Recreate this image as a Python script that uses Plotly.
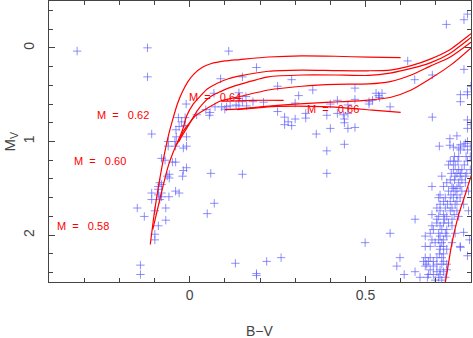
import plotly.graph_objects as go

# ---- observed stars (B-V, M_V) ----
bv_stars = [
    -0.32, -0.12, -0.12, -0.108, 0.111, 0.088,
    -0.01, -0.013, -0.032, -0.023, -0.03, -0.039, -0.009, -0.038, -0.013, 0.069, 0.02, 0.046, 0.058, 0.056,
    0.072, 0.091, 0.105, 0.115, 0.132, 0.10,
    -0.061, -0.042, -0.061, -0.040, -0.018, -0.009, -0.080, -0.070, -0.049, -0.040, -0.018, -0.009,
    -0.058, -0.058, -0.064, -0.020, 0.060, -0.085, -0.080, -0.089, -0.089, -0.080, -0.089, -0.080,
    -0.108, -0.108, -0.040, -0.030, -0.059, -0.085, -0.149, -0.129, -0.099, -0.068, -0.068, -0.089,
    0.070, 0.050, -0.099, -0.099, -0.140, -0.140, 0.130,
    0.19, 0.15, 0.29, 0.25, 0.35, 0.47, 0.14, 0.16, 0.31, 0.138, 0.15, 0.18, 0.21, 0.14, 0.162, 0.30,
    0.42, 0.47, 0.45, 0.40, 0.53, 0.537, 0.547, 0.54, 0.51, 0.52, 0.51, 0.57, 0.25, 0.27, 0.30, 0.28,
    0.27, 0.29, 0.33, 0.33, 0.39, 0.42, 0.437, 0.44, 0.44, 0.45, 0.40, 0.45, 0.47, 0.36, 0.44, 0.39,
    0.39, 0.15, 0.219, 0.26, 0.19, 0.19, 0.499, 0.57, 0.61,
    0.62, 0.64, 0.69, 0.73, 0.78, 0.79, 0.78, 0.77, 0.79, 0.79, 0.80, 0.77, 0.69, 0.79, 0.80, 0.79,
    0.74, 0.76, 0.71, 0.74, 0.75, 0.77, 0.78, 0.77, 0.765, 0.784, 0.79, 0.798, 0.79,
    0.753, 0.765, 0.786, 0.798, 0.741, 0.750, 0.763, 0.790, 0.736, 0.755, 0.781,
    0.750, 0.765, 0.774, 0.798, 0.744, 0.760, 0.771, 0.788, 0.717, 0.755, 0.769, 0.784,
    0.741, 0.753, 0.774, 0.731, 0.765, 0.784, 0.689, 0.722, 0.746, 0.769, 0.750, 0.760,
    0.736, 0.755, 0.774, 0.793, 0.712, 0.743, 0.760, 0.708, 0.727, 0.750, 0.769,
    0.722, 0.741, 0.760, 0.712, 0.733, 0.755, 0.779, 0.703, 0.727, 0.746,
    0.712, 0.741, 0.760, 0.793, 0.689, 0.722, 0.752, 0.708, 0.731, 0.765, 0.641, 0.703, 0.725, 0.746,
    0.703, 0.722, 0.736, 0.689, 0.712, 0.746, 0.693, 0.717, 0.731, 0.684, 0.708, 0.727, 0.755,
    0.670, 0.712, 0.731, 0.689, 0.708, 0.722, 0.698, 0.717, 0.746, 0.670, 0.684, 0.712, 0.722, 0.769,
    0.712, 0.731, 0.710, 0.722, 0.598, 0.670, 0.684, 0.703, 0.717, 0.665, 0.679, 0.693, 0.722,
    0.674, 0.703, 0.717, 0.731, 0.589, 0.670, 0.693, 0.684, 0.712, 0.731, 0.641, 0.703, 0.722,
    0.679, 0.693, 0.712, 0.655, 0.676, 0.708, 0.727, 0.698, 0.717,
    0.770, 0.790, 0.779, 0.796,
]
mv_stars = [
    0.035, 0.0, 0.31, 0.92, 0.035, 0.33,
    0.60, 0.745, 0.745, 0.79, 0.84, 0.875, 0.95, 0.95, 0.83, 0.485, 0.715, 0.66, 0.69, 0.72,
    0.63, 0.63, 0.63, 0.62, 0.61, 0.655,
    1.0, 1.0, 1.05, 1.05, 1.07, 1.05, 1.18, 1.20, 1.22, 1.22, 1.31, 1.28,
    1.35, 1.39, 1.37, 1.37, 1.34, 1.44, 1.46, 1.48, 1.51, 1.55, 1.57, 1.59,
    1.55, 1.62, 1.53, 1.55, 1.59, 1.62, 1.71, 1.80, 1.74, 1.71, 1.84, 1.90,
    1.66, 1.77, 1.99, 2.05, 2.32, 2.42, 2.30,
    0.21, 0.31, 0.34, 0.41, 0.45, 0.43, 0.48, 0.52, 0.51, 0.54, 0.575, 0.575, 0.58, 0.62, 0.62, 0.59,
    0.56, 0.55, 0.61, 0.60, 0.485, 0.51, 0.485, 0.53, 0.575, 0.56, 0.60, 0.63, 0.68, 0.74, 0.76, 0.79,
    0.82, 0.83, 0.70, 0.75, 0.72, 0.70, 0.715, 0.76, 0.80, 0.70, 0.86, 0.86, 0.85, 0.92, 1.03, 1.10,
    1.34, 1.35, 2.28, 2.24, 2.41, 2.43, 2.08, 1.98, 2.42,
    0.14, 0.34, 0.29, -0.25, -0.30, -0.36, 0.23, 0.50, 0.50, 0.47, 0.41, 0.575, 0.74, 0.77, 0.82, 0.86,
    0.97, 0.94, 1.05, 1.04, 1.06, 1.035, 1.05, 1.09, 1.07, 1.02, 1.09, 1.05, 1.0,
    1.16, 1.16, 1.16, 1.16, 1.21, 1.21, 1.21, 1.21, 1.25, 1.25, 1.25,
    1.30, 1.30, 1.30, 1.30, 1.34, 1.34, 1.34, 1.34, 1.37, 1.37, 1.37, 1.37,
    1.41, 1.41, 1.41, 1.44, 1.44, 1.44, 1.48, 1.48, 1.48, 1.48, 1.50, 1.50,
    1.53, 1.53, 1.53, 1.53, 1.57, 1.57, 1.57, 1.60, 1.60, 1.60, 1.60,
    1.64, 1.64, 1.64, 1.67, 1.67, 1.67, 1.67, 1.71, 1.71, 1.71,
    1.74, 1.74, 1.74, 1.74, 1.78, 1.78, 1.78, 1.80, 1.80, 1.80, 1.83, 1.83, 1.83, 1.83,
    1.87, 1.87, 1.87, 1.90, 1.90, 1.90, 1.94, 1.94, 1.94, 1.98, 1.98, 1.98, 1.98,
    2.01, 2.01, 2.01, 2.05, 2.05, 2.05, 2.08, 2.08, 2.08, 2.12, 2.12, 2.12, 2.12, 2.12,
    2.15, 2.15, 2.20, 2.20, 2.24, 2.24, 2.24, 2.24, 2.24, 2.28, 2.28, 2.28, 2.28,
    2.31, 2.31, 2.31, 2.31, 2.33, 2.33, 2.33, 2.37, 2.37, 2.37, 2.39, 2.39, 2.39,
    2.42, 2.42, 2.42, 2.45, 2.45, 2.45, 2.45, 2.48, 2.48,
    2.13, 2.22, 1.97, 2.05,
]

# ---- HB evolutionary tracks ----
t1_bv = [-0.112, -0.10, -0.085, -0.070, -0.058, -0.047, -0.035, -0.022, -0.005, 0.012, 0.035, 0.06, 0.10, 0.143, 0.224, 0.319, 0.414, 0.509, 0.60]
t1_mv = [2.10, 1.75, 1.40, 1.10, 0.90, 0.75, 0.60, 0.48, 0.36, 0.28, 0.21, 0.17, 0.14, 0.125, 0.098, 0.085, 0.09, 0.10, 0.105]
t2_bv = [-0.105, -0.085, -0.06, -0.04, -0.028, -0.018, -0.009, 0.010, 0.029, 0.05, 0.077, 0.11, 0.143, 0.224, 0.319, 0.414, 0.509, 0.57, 0.63, 0.684, 0.74, 0.80, 0.82]
t2_mv = [1.94, 1.62, 1.25, 1.05, 0.95, 0.85, 0.73, 0.60, 0.52, 0.44, 0.38, 0.33, 0.30, 0.25, 0.238, 0.243, 0.245, 0.237, 0.19, 0.12, 0.02, -0.15, -0.21]
t3_bv = [-0.04, -0.02, 0.001, 0.02, 0.039, 0.06, 0.086, 0.11, 0.143, 0.224, 0.319, 0.414, 0.509, 0.57, 0.63, 0.684, 0.74, 0.80, 0.82]
t3_mv = [1.05, 0.93, 0.80, 0.68, 0.59, 0.52, 0.47, 0.43, 0.39, 0.31, 0.29, 0.29, 0.295, 0.27, 0.22, 0.16, 0.06, -0.11, -0.17]
t4_bv = [-0.03, -0.018, 0.0, 0.015, 0.048, 0.086, 0.143, 0.224, 0.319, 0.414, 0.509, 0.57, 0.63, 0.684, 0.74, 0.80, 0.82]
t4_mv = [1.0, 0.89, 0.80, 0.73, 0.65, 0.57, 0.52, 0.45, 0.41, 0.39, 0.385, 0.36, 0.29, 0.195, 0.10, -0.06, -0.12]
t5_bv = [0.10, 0.134, 0.20, 0.30, 0.40, 0.50, 0.57, 0.63, 0.684, 0.74, 0.80, 0.82]
t5_mv = [0.66, 0.655, 0.63, 0.60, 0.58, 0.56, 0.53, 0.45, 0.33, 0.19, 0.0, -0.07]
t64_bv = [0.09, 0.18, 0.267]
t64_mv = [0.57, 0.56, 0.56]
t66_bv = [0.134, 0.25, 0.40, 0.52, 0.60]
t66_mv = [0.66, 0.625, 0.63, 0.665, 0.69]
rgb_bv = [0.720, 0.727, 0.745, 0.765, 0.785, 0.80, 0.815]
rgb_mv = [2.60, 2.50, 2.10, 1.78, 1.55, 1.37, 1.20]

tracks = [(t1_bv, t1_mv), (t2_bv, t2_mv), (t3_bv, t3_mv), (t4_bv, t4_mv),
          (t5_bv, t5_mv), (t64_bv, t64_mv), (t66_bv, t66_mv), (rgb_bv, rgb_mv)]

# ---- mass labels ----
label_text = ["M\u00a0\u00a0=\u00a0\u00a0\u00a00.62", "M\u00a0\u00a0=\u00a0\u00a0\u00a00.60",
              "M\u00a0\u00a0=\u00a0\u00a0\u00a00.58", "M\u00a0\u00a0=\u00a0\u00a0\u00a00.64",
              "M\u00a0\u00a0=\u00a0\u00a0\u00a00.66"]
label_bv = [-0.27, -0.335, -0.383, -0.008, 0.328]
label_mv = [0.72, 1.21, 1.90, 0.53, 0.65]

FONT = "Liberation Sans, Arial, sans-serif"
AX = "#444444"
STAR = "rgba(95,95,255,0.7)"

fig = go.Figure()
fig.add_trace(go.Scatter(
    x=bv_stars, y=mv_stars, mode="markers",
    marker=dict(symbol="cross-thin-open", size=6, color=STAR, line=dict(width=1, color=STAR)),
    hoverinfo="skip"))
for tx, ty in tracks:
    fig.add_trace(go.Scatter(x=tx, y=ty, mode="lines",
                             line=dict(color="red", width=1.2, shape="spline", smoothing=0.6),
                             hoverinfo="skip"))

for t, x, y in zip(label_text, label_bv, label_mv):
    fig.add_annotation(x=x, y=y, text=t, showarrow=False, xanchor="left", yanchor="middle",
                       font=dict(family=FONT, size=11, color="red"))

fig.add_annotation(xref="paper", yref="paper", x=0.5, y=0, yshift=-49, text="B\u2212V",
                   showarrow=False, xanchor="center", yanchor="middle",
                   font=dict(family=FONT, size=14, color=AX))
fig.add_annotation(xref="paper", yref="paper", x=0, xshift=-39, y=0.5, text="M<sub>V</sub>",
                   showarrow=False, xanchor="center", yanchor="middle", textangle=-90,
                   font=dict(family=FONT, size=15, color=AX))

axis_common = dict(ticks="inside", ticklen=6, tickcolor=AX, tickwidth=1, showline=True, linecolor=AX,
                   linewidth=1, mirror="ticks", showgrid=False, zeroline=False, automargin=False,
                   tickfont=dict(family=FONT, size=14, color=AX))
fig.update_xaxes(range=[-0.4, 0.8], tick0=0, dtick=0.5,
                 minor=dict(dtick=0.1, tick0=0, ticks="inside", ticklen=4, tickcolor=AX, showgrid=False),
                 **axis_common)
fig.update_yaxes(range=[2.5, -0.5], tick0=0, dtick=1, tickangle=-90, ticklabelstandoff=8,
                 minor=dict(dtick=0.2, tick0=0, ticks="inside", ticklen=4, tickcolor=AX, showgrid=False),
                 **axis_common)
fig.update_layout(width=473, height=338, margin=dict(l=49, r=2, t=1, b=56, autoexpand=False),
                  plot_bgcolor="white", paper_bgcolor="white", showlegend=False)
fig.write_html("out.html", config={"displayModeBar": False},
               post_script="document.body.style.margin='0';document.body.style.overflow='hidden';")
